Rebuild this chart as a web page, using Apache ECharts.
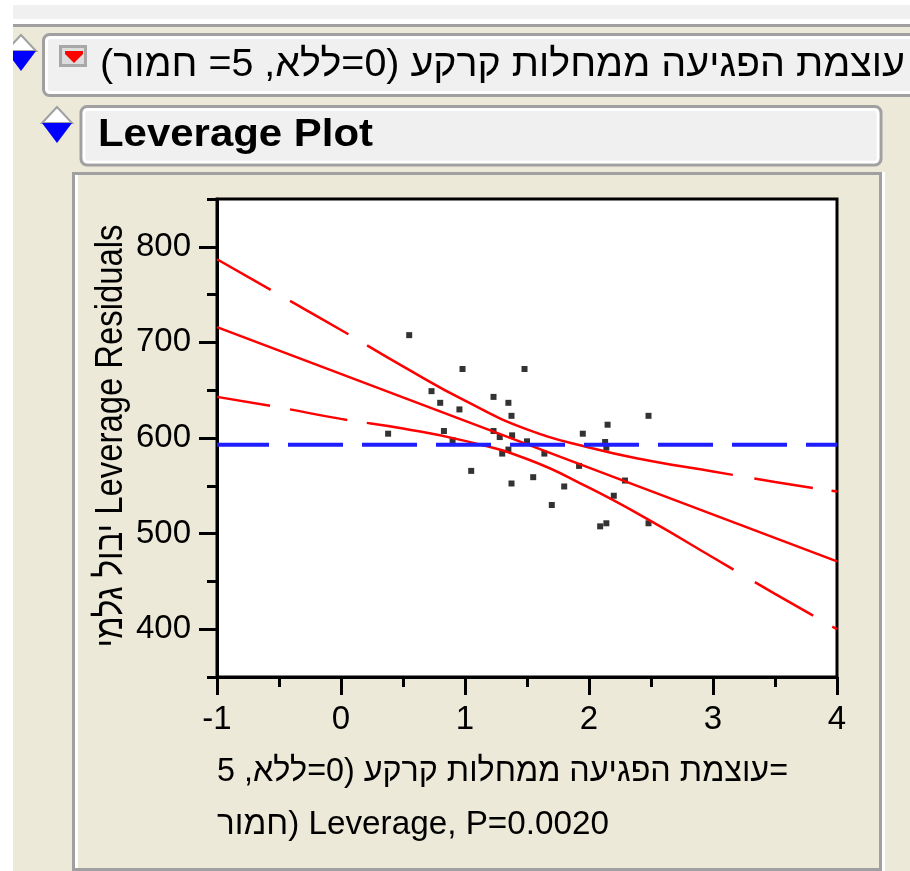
<!DOCTYPE html>
<html>
<head>
<meta charset="utf-8">
<script src="https://cdn.jsdelivr.net/npm/echarts@6/dist/echarts.min.js"></script>
<style>
html, body { margin: 0; padding: 0; background: #fff; }
#leveragePlot { width: 910px; height: 871px; }
</style>
</head>
<body>
<div id="leveragePlot"></div>
<script>
// leverage points
const pointX = [0.55, 0.98, 1.48, 0.73, 0.80, 0.955, 1.23, 1.35, 1.375, 0.83, 0.38, 0.90, 1.23, 1.28, 1.38, 1.50, 1.35, 1.30,
                1.05, 1.375, 2.48, 2.15, 1.95, 2.13, 2.14, 1.64, 1.92, 2.29, 1.55, 1.80, 2.20, 1.70, 2.14, 2.09, 2.48];
const pointY = [707.6, 672.2, 672.2, 649, 636.8, 629.9, 643, 636.8, 623.2, 607.3, 604.5, 597.6, 607.3, 601, 602.8, 596.5, 587.9, 583.7,
                565.6, 552.4, 623.2, 613.9, 604.5, 595.8, 589.9, 583.7, 570.8, 555.5, 559, 549.3, 539.6, 529.9, 510.8, 507.6, 510.8];

// fitted line and confidence curves
const fitX = [-1, 4];
const fitY = [716, 471];
const curveX = [-1, -0.5, 0, 0.5, 1, 1.5, 2, 2.5, 3, 3.5, 4];
const upperY = [787, 750, 713, 675, 639, 609, 590, 576, 565, 554, 544];
const lowerY = [643, 632, 620, 610, 597, 578, 548, 513, 475, 437, 400];
const meanY = 593;

// axis ticks
const xTicks = [-1, 0, 1, 2, 3, 4];
const yTicks = [400, 500, 600, 700, 800];
const yMinorTicks = [350, 450, 550, 650, 750, 850];

const titleText = 'עוצמת הפגיעה ממחלות קרקע (0=ללא, 5= חמור)\u200F';
const panelText = 'Leverage Plot';
const yName = 'יבול גלמי Leverage Residuals';
const xNameLines = ['עוצמת הפגיעה ממחלות קרקע (0=ללא, 5=', 'חמור) Leverage, P=0.0020'];

const FONT = '"Liberation Sans", Arial, sans-serif';

// stretch a text to the width it has in the picture
const measureCtx = document.createElement('canvas').getContext('2d');
function fitScale(text, font, width) {
  measureCtx.font = font;
  return width / measureCtx.measureText(text).width;
}

function pairs(xs, ys) {
  return xs.map((x, i) => [x, ys[i]]);
}

function disclosure(cx, top) {
  return [
    { type: 'polygon', z: -10, shape: { points: [[cx - 15, top + 16], [cx, top], [cx + 15, top + 16]] },
      style: { fill: '#ffffff', stroke: '#a0a0a0', lineWidth: 2 } },
    { type: 'polygon', z: -9, shape: { points: [[cx - 15, top + 16], [cx + 15, top + 16], [cx, top + 36]] },
      style: { fill: '#0000ff' } }
  ];
}

const titleFont = '38px ' + FONT;
const panelFont = 'bold 39px ' + FONT;
const yNameFont = '38px ' + FONT;
const xNameFont = '33px ' + FONT;

const chrome = [
  { type: 'rect', z: -20, shape: { x: 0, y: 0, width: 910, height: 871 }, style: { fill: '#ffffff' } },
  { type: 'rect', z: -19, shape: { x: 13, y: 5, width: 897, height: 14 }, style: { fill: '#f0f0f0' } },
  { type: 'rect', z: -19, shape: { x: 13, y: 24, width: 897, height: 3 }, style: { fill: '#a0a0a0' } },
  { type: 'rect', z: -19, shape: { x: 13, y: 27, width: 897, height: 844 }, style: { fill: '#ece9d8' } },
  // outline boxes
  { type: 'rect', z: -18, shape: { x: 43.5, y: 34.5, width: 900, height: 61, r: 6 },
    style: { fill: '#f0f0f0', stroke: '#a0a0a0', lineWidth: 3 } },
  { type: 'rect', z: -17, shape: { x: 46.5, y: 37.5, width: 894, height: 55, r: 4 },
    style: { fill: null, stroke: '#ffffff', lineWidth: 2.5 } },
  { type: 'rect', z: -18, shape: { x: 81, y: 106.5, width: 800, height: 58.5, r: 6 },
    style: { fill: '#f0f0f0', stroke: '#a0a0a0', lineWidth: 3 } },
  { type: 'rect', z: -17, shape: { x: 84, y: 109.5, width: 794, height: 52.5, r: 4 },
    style: { fill: null, stroke: '#ffffff', lineWidth: 2.5 } },
  { type: 'rect', z: -18, shape: { x: 73.5, y: 173.5, width: 807, height: 696 },
    style: { fill: null, stroke: '#a0a0a0', lineWidth: 3 } },
  { type: 'line', z: -18, shape: { x1: 76.5, y1: 175, x2: 76.5, y2: 868 }, style: { stroke: '#ffffff', lineWidth: 3 } },
  { type: 'line', z: -18, shape: { x1: 883.5, y1: 172, x2: 883.5, y2: 871 }, style: { stroke: '#ffffff', lineWidth: 3 } },
  // red popup menu icon
  { type: 'rect', z: -10, shape: { x: 60.5, y: 46.5, width: 25, height: 19 },
    style: { fill: '#dcdcdc', stroke: '#a8a8a8', lineWidth: 3 } },
  { type: 'polygon', z: -9, shape: { points: [[65, 51], [83, 51], [83, 54], [74, 63], [65, 54]] }, style: { fill: '#ff0000' } },
  ...disclosure(21, 35),
  ...disclosure(57, 107),
  { type: 'rect', z: -5, shape: { x: 0, y: 0, width: 13, height: 871 }, style: { fill: '#ffffff' } },
  // texts
  { type: 'text', z: 10, x: 100, y: 66, scaleX: fitScale(titleText, titleFont, 805),
    style: { text: titleText, font: titleFont, fill: '#000', verticalAlign: 'middle' } },
  { type: 'text', z: 10, x: 98, y: 135, scaleX: fitScale(panelText, panelFont, 275),
    style: { text: panelText, font: panelFont, fill: '#000', verticalAlign: 'middle' } },
  { type: 'text', z: 10, x: 112, y: 436, rotation: Math.PI / 2, scaleX: fitScale(yName, yNameFont, 423),
    style: { text: yName, font: yNameFont, fill: '#000', align: 'center', verticalAlign: 'middle' } },
  { type: 'text', z: 10, x: 217, y: 772, scaleX: fitScale(xNameLines[0], xNameFont, 571),
    style: { text: xNameLines[0], font: xNameFont, fill: '#000', verticalAlign: 'middle' } },
  { type: 'text', z: 10, x: 217, y: 825, scaleX: fitScale(xNameLines[1], xNameFont, 392),
    style: { text: xNameLines[1], font: xNameFont, fill: '#000', verticalAlign: 'middle' } }
];

const axisBlack = { color: '#000', width: 3 };

let myChart = echarts.init(document.getElementById('leveragePlot'));
let option = {
  animation: false,
  textStyle: { fontFamily: FONT },
  graphic: { elements: chrome },
  grid: {
    left: 217, top: 199, width: 620, height: 478,
    show: true, backgroundColor: '#ffffff', borderColor: '#000', borderWidth: 3
  },
  xAxis: {
    type: 'value', min: -1, max: 4, interval: 1,
    axisLine: { onZero: false, lineStyle: axisBlack },
    axisTick: { length: 18, lineStyle: axisBlack },
    minorTick: { show: true, splitNumber: 2, length: 10, lineStyle: axisBlack },
    axisLabel: {
      fontSize: 33, color: '#000', margin: 26,
      customValues: xTicks
    },
    splitLine: { show: false }
  },
  yAxis: [
    {
      type: 'value', min: 350, max: 850, position: 'left',
      axisLine: { show: true, onZero: false, lineStyle: axisBlack },
      axisTick: { show: true, length: 18, lineStyle: axisBlack, customValues: yTicks },
      axisLabel: { fontSize: 33, color: '#000', margin: 26, customValues: yTicks },
      splitLine: { show: false }
    },
    {
      type: 'value', min: 350, max: 850, position: 'left', offset: 0,
      axisLine: { show: false, onZero: false },
      axisTick: { show: true, length: 10, lineStyle: axisBlack, customValues: yMinorTicks },
      axisLabel: { show: false },
      splitLine: { show: false }
    }
  ],
  series: [
    {
      type: 'scatter', z: 2,
      symbol: 'rect', symbolSize: 6,
      itemStyle: { color: '#000' },
      data: pairs(pointX, pointY)
    },
    {
      type: 'line', z: 3, symbol: 'none', silent: true,
      lineStyle: { color: '#ff0000', width: 2.5 },
      data: pairs(fitX, fitY)
    },
    {
      type: 'line', z: 3, symbol: 'none', silent: true, smooth: true,
      lineStyle: { color: '#ff0000', width: 2.5, type: [62, 22, 67, 22, 392, 22, 59, 19, 200] },
      data: pairs(curveX, upperY)
    },
    {
      type: 'line', z: 3, symbol: 'none', silent: true, smooth: true,
      lineStyle: { color: '#ff0000', width: 2.5, type: [54, 20, 58, 20, 399, 25, 67, 22, 200] },
      data: pairs(curveX, lowerY)
    },
    {
      type: 'line', z: 4, symbol: 'none', silent: true,
      lineStyle: { color: '#1e1eff', width: 4, type: [55, 19], dashOffset: 3 },
      data: [[-1, meanY], [4, meanY]]
    }
  ]
};
myChart.setOption(option);
</script>
</body>
</html>
